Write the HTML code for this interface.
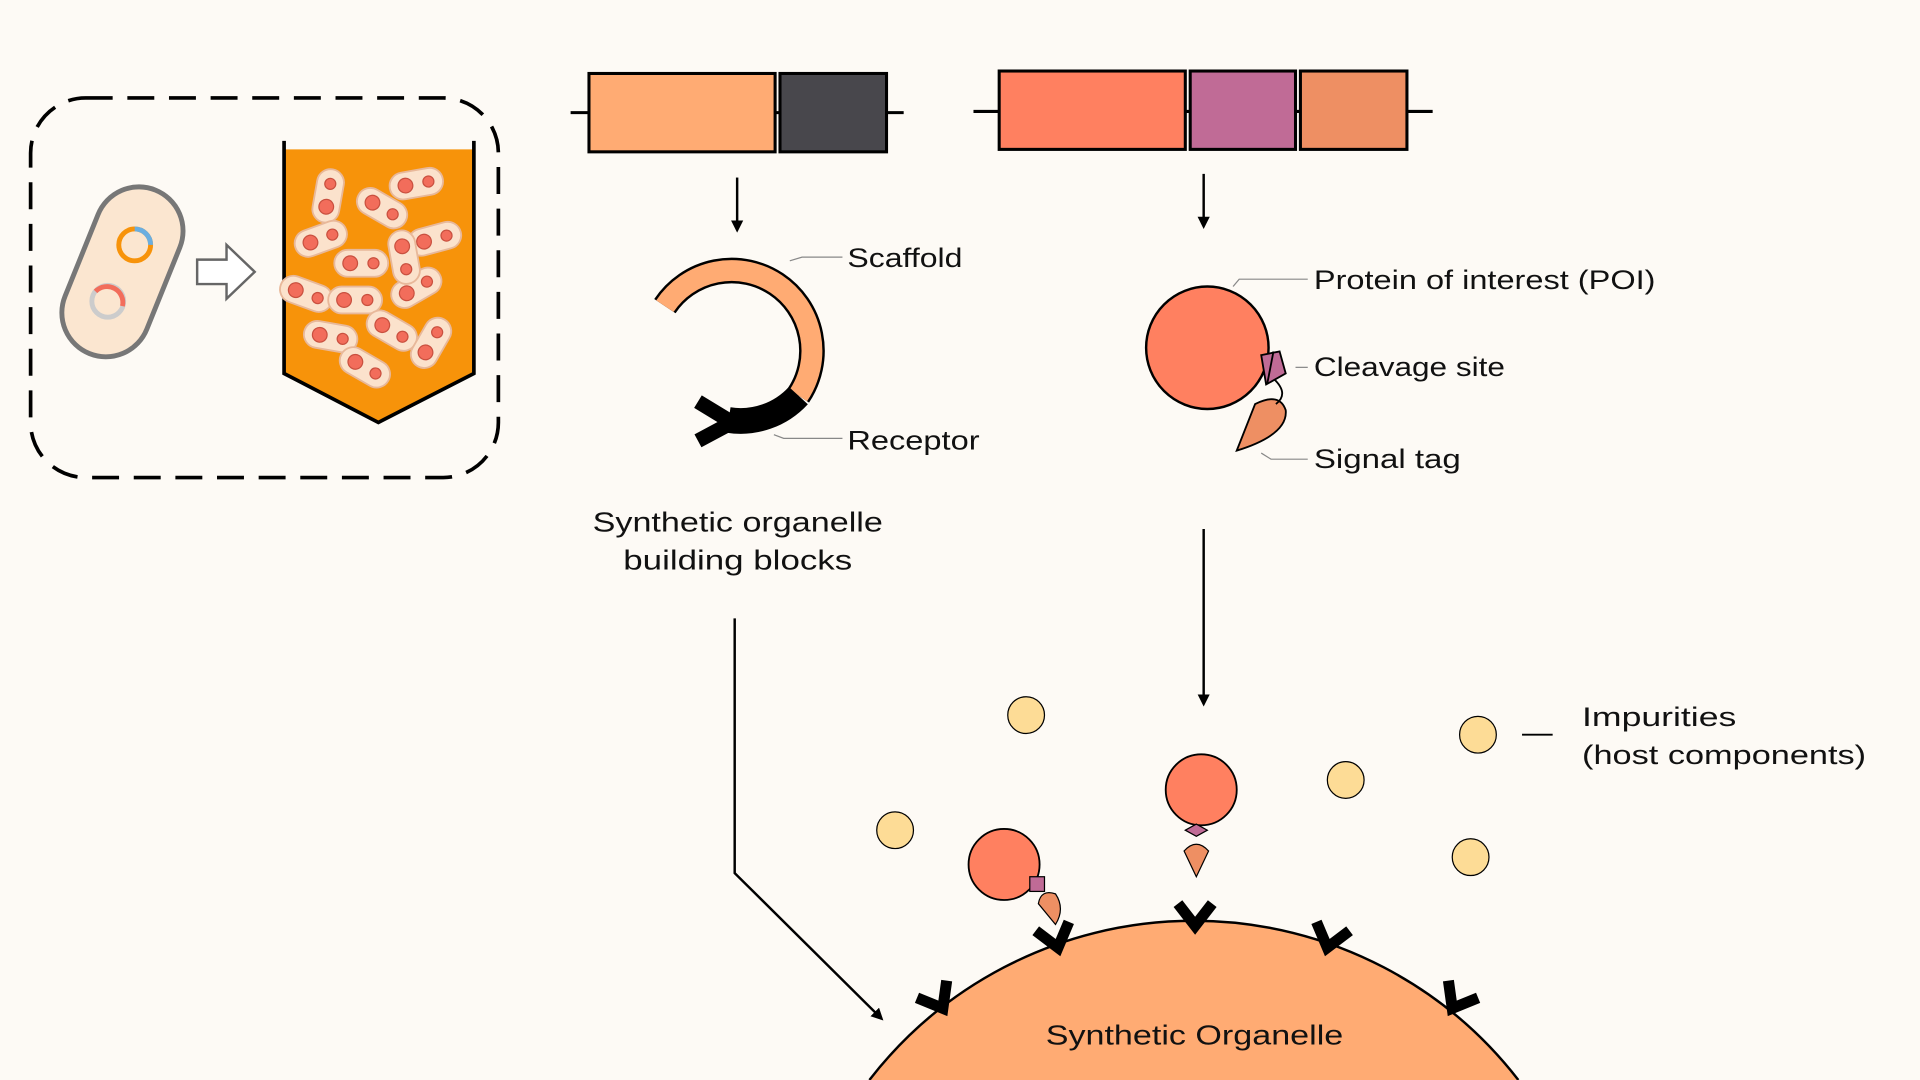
<!DOCTYPE html>
<html><head><meta charset="utf-8"><style>
html,body{margin:0;padding:0;background:#fdfaf5;overflow:hidden;width:1920px;height:1080px;}
svg{display:block;}
text{font-family:"Liberation Sans",sans-serif;fill:#111;}
</style></head><body>
<svg width="1920" height="1080" viewBox="0 0 1568 882" xmlns="http://www.w3.org/2000/svg">
<rect width="1568" height="882" fill="#fdfaf5"/>
<defs>
<marker id="ah" markerWidth="10" markerHeight="10" refX="8" refY="5" orient="auto" markerUnits="userSpaceOnUse">
<path d="M0,0 L10,5 L0,10 z" fill="#000"/></marker>
<g id="rec"><path d="M-14,-14 L0,4 L14,-14" fill="none" stroke="#000" stroke-width="9" stroke-linejoin="miter"/></g>
<g id="cell"><rect x="-22" y="-11" width="44" height="22" rx="11" fill="#fbe2cc" stroke="#e8b89a" stroke-width="1.5"/><circle cx="-9" cy="0" r="6" fill="#f26d5b" stroke="#c9503f"/><circle cx="10" cy="0" r="4.5" fill="#f26d5b" stroke="#c9503f"/></g>
</defs>

<rect x="25" y="80" width="382" height="310" rx="45" fill="none" stroke="#000" stroke-width="3" stroke-dasharray="22 12"/>
<g transform="translate(100,222) rotate(-68)">
<rect x="-72" y="-36" width="144" height="72" rx="36" fill="#fbe6d0" stroke="#777" stroke-width="4"/>
</g>
<circle cx="110" cy="200" r="13" fill="none" stroke="#f7930a" stroke-width="4"/>
<path d="M110,187 A13,13 0 0 1 123,200" fill="none" stroke="#6aaee0" stroke-width="4"/>
<circle cx="88" cy="246" r="13" fill="none" stroke="#ccc" stroke-width="4"/>
<path d="M78,238 A13,13 0 0 1 100,250" fill="none" stroke="#f26d5b" stroke-width="4"/>
<path d="M161,212 L185,212 L185,200 L208,222 L185,244 L185,232 L161,232 z" fill="#fff" stroke="#666" stroke-width="2"/>
<polygon points="232,122 387,122 387,305 309,345 232,305" fill="#f7930a"/>
<path d="M232,115 L232,305 L309,345 L387,305 L387,115" fill="none" stroke="#000" stroke-width="3"/>
<g>
<use href="#cell" transform="translate(268,160) rotate(-80)"/>
<use href="#cell" transform="translate(312,170) rotate(30)"/>
<use href="#cell" transform="translate(340,150) rotate(-10)"/>
<use href="#cell" transform="translate(262,195) rotate(-20)"/>
<use href="#cell" transform="translate(355,195) rotate(-15)"/>
<use href="#cell" transform="translate(295,215) rotate(0)"/>
<use href="#cell" transform="translate(250,240) rotate(20)"/>
<use href="#cell" transform="translate(340,235) rotate(-30)"/>
<use href="#cell" transform="translate(290,245) rotate(0)"/>
<use href="#cell" transform="translate(270,275) rotate(10)"/>
<use href="#cell" transform="translate(320,270) rotate(30)"/>
<use href="#cell" transform="translate(352,280) rotate(-60)"/>
<use href="#cell" transform="translate(298,300) rotate(30)"/>
<use href="#cell" transform="translate(330,210) rotate(80)"/>
</g>
<line x1="466" y1="92" x2="738" y2="92" stroke="#000" stroke-width="2.5"/>
<rect x="481" y="60" width="152" height="64" fill="#ffab73" stroke="#000" stroke-width="2.5"/>
<rect x="637" y="60" width="87" height="64" fill="#48474c" stroke="#000" stroke-width="2.5"/>
<line x1="795" y1="91" x2="1170" y2="91" stroke="#000" stroke-width="2.5"/>
<rect x="816" y="58" width="152" height="64" fill="#ff8060" stroke="#000" stroke-width="2.5"/>
<rect x="972" y="58" width="86" height="64" fill="#c06b96" stroke="#000" stroke-width="2.5"/>
<rect x="1062" y="58" width="87" height="64" fill="#ee8f63" stroke="#000" stroke-width="2.5"/>
<line x1="602" y1="145" x2="602" y2="188" stroke="#000" stroke-width="2" marker-end="url(#ah)"/>
<line x1="983" y1="142" x2="983" y2="185" stroke="#000" stroke-width="2" marker-end="url(#ah)"/>
<line x1="983" y1="432" x2="983" y2="575" stroke="#000" stroke-width="2" marker-end="url(#ah)"/>
<polyline points="600,505 600,713 720,832" fill="none" stroke="#000" stroke-width="2" marker-end="url(#ah)"/>
<path d="M543,250 A64,64 0 1 1 652,323" fill="none" stroke="#000" stroke-width="21"/>
<path d="M543,250 A64,64 0 1 1 652,323" fill="none" stroke="#ffab73" stroke-width="17"/>
<path d="M652,323 A64,64 0 0 1 595,343" fill="none" stroke="#000" stroke-width="21"/>
<path d="M570,328 L598,345 L570,360" fill="none" stroke="#000" stroke-width="12"/>
<polyline points="645,213 655,210 688,210" fill="none" stroke="#888" stroke-width="1"/>
<polyline points="632,355 640,358 688,358" fill="none" stroke="#888" stroke-width="1"/>
<text x="692" y="218" font-size="22" textLength="94" lengthAdjust="spacingAndGlyphs">Scaffold</text>
<text x="692" y="367" font-size="22" textLength="108" lengthAdjust="spacingAndGlyphs">Receptor</text>
<text x="484" y="434" font-size="23" textLength="237" lengthAdjust="spacingAndGlyphs">Synthetic organelle</text>
<text x="509" y="465" font-size="23" textLength="187" lengthAdjust="spacingAndGlyphs">building blocks</text>
<path d="M1010,368 L1025,330 Q1045,320 1050,335 Q1052,355 1010,368 z" fill="#ee8f63" stroke="#000" stroke-width="1.5"/>
<path d="M1035,305 Q1055,320 1042,330" fill="none" stroke="#000" stroke-width="1.5"/>
<circle cx="986" cy="284" r="50" fill="#ff8060" stroke="#000" stroke-width="2"/>
<polygon points="1030,290 1045,287 1050,305 1034,314" fill="#c06b96" stroke="#000" stroke-width="1.5"/>
<line x1="1040" y1="287" x2="1035" y2="313" stroke="#000" stroke-width="1.5"/>
<polyline points="1007,234 1012,228 1068,228" fill="none" stroke="#888" stroke-width="1"/>
<line x1="1058" y1="300" x2="1068" y2="300" stroke="#888" stroke-width="1"/>
<polyline points="1030,370 1038,375 1068,375" fill="none" stroke="#888" stroke-width="1"/>
<text x="1073" y="236" font-size="22" textLength="279" lengthAdjust="spacingAndGlyphs">Protein of interest (POI)</text>
<text x="1073" y="307" font-size="22" textLength="156" lengthAdjust="spacingAndGlyphs">Cleavage site</text>
<text x="1073" y="382" font-size="22" textLength="120" lengthAdjust="spacingAndGlyphs">Signal tag</text>
<path d="M710,882 A335,335 0 0 1 1240,882 Z" fill="#ffab73"/>
<path d="M710,882 A335,335 0 0 1 1240,882" fill="none" stroke="#000" stroke-width="2"/>
<use href="#rec" transform="translate(768,820) rotate(-30)"/>
<use href="#rec" transform="translate(863,770) rotate(-15)"/>
<use href="#rec" transform="translate(976,752)"/>
<use href="#rec" transform="translate(1085,770) rotate(15)"/>
<use href="#rec" transform="translate(1188,820) rotate(30)"/>
<text x="854" y="853" font-size="23" textLength="243" lengthAdjust="spacingAndGlyphs">Synthetic Organelle</text>
<g fill="#fddc96" stroke="#000" stroke-width="1">
<circle cx="838" cy="584" r="15"/><circle cx="731" cy="678" r="15"/><circle cx="1099" cy="637" r="15"/>
<circle cx="1201" cy="700" r="15"/><circle cx="1207" cy="600" r="15"/></g>
<line x1="1243" y1="600" x2="1268" y2="600" stroke="#000" stroke-width="1.5"/>
<text x="1292" y="593" font-size="22" textLength="126" lengthAdjust="spacingAndGlyphs">Impurities</text>
<text x="1292" y="624" font-size="22" textLength="232" lengthAdjust="spacingAndGlyphs">(host components)</text>
<path d="M862,755 L848,738 Q850,726 862,730 Q870,742 862,755 z" fill="#ee8f63" stroke="#000" stroke-width="1"/>
<circle cx="820" cy="706" r="29" fill="#ff8060" stroke="#000" stroke-width="1.5"/>
<rect x="841" y="716" width="12" height="12" fill="#c06b96" stroke="#000" stroke-width="1"/>
<path d="M977,716 L967,695 Q977,684 987,695 z" fill="#ee8f63" stroke="#000" stroke-width="1"/>
<circle cx="981" cy="645" r="29" fill="#ff8060" stroke="#000" stroke-width="1.5"/>
<polygon points="968,678 977,673 986,678 977,683" fill="#c06b96" stroke="#000" stroke-width="1"/>
</svg>
</body></html>
